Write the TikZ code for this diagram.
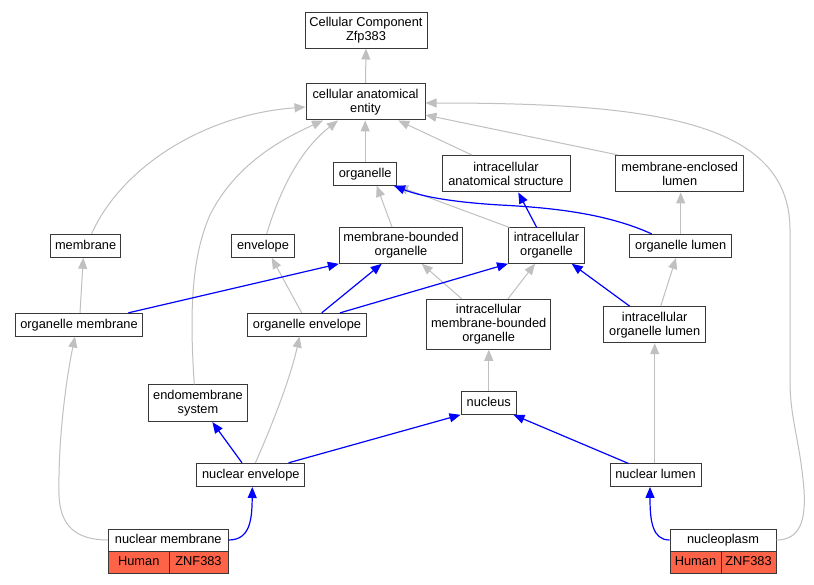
\documentclass[tikz,border=0pt]{standalone}
\usepackage{fontspec}
\setmainfont{Liberation Sans}
\usetikzlibrary{arrows.meta}
\definecolor{tomato}{HTML}{FF6347}
\definecolor{edgegray}{HTML}{C0C0C0}
\begin{document}
\begin{tikzpicture}[x=1pt,y=-1pt,
  box/.style={draw=black!78, line width=1pt, fill=white, inner sep=0pt, align=center, font=\fontsize{12.8}{14}\selectfont},
  one/.style={text height=9.3pt, text depth=2.7pt},
  cell/.style={box, fill=tomato, one},
  gedge/.style={draw=edgegray, line width=1pt, -{Triangle[length=11pt,width=9pt]}},
  bedge/.style={draw=blue, line width=1.2pt, -{Triangle[length=11pt,width=9pt]}},
]
\fill[white] (0,0) rectangle (814,584);
\useasboundingbox (0,0) rectangle (814,584);

\node[box,minimum width=122pt,minimum height=36pt] (cc) at (366,30) {Cellular Component\\Zfp383};
\node[box,minimum width=119pt,minimum height=36.5pt] (cae) at (365.5,101.7) {cellular anatomical\\entity};
\node[box,one,minimum width=62.5pt,minimum height=22.5pt] (org) at (365.2,174) {organelle};
\node[box,minimum width=128pt,minimum height=36.5pt] (ias) at (506,173.7) {intracellular\\anatomical structure};
\node[box,minimum width=127.5pt,minimum height=36.5pt] (mel) at (679.7,173.7) {membrane-enclosed\\lumen};
\node[box,one,minimum width=70.7pt,minimum height=23pt] (mem) at (85.6,245.8) {membrane};
\node[box,one,minimum width=62.5pt,minimum height=23pt] (env) at (263,245.8) {envelope};
\node[box,minimum width=123.3pt,minimum height=35.8pt] (mbo) at (401,245.4) {membrane-bounded\\organelle};
\node[box,minimum width=76pt,minimum height=35.3pt] (io) at (546.5,245.6) {intracellular\\organelle};
\node[box,one,minimum width=101.5pt,minimum height=23pt] (ol) at (680.7,245.9) {organelle lumen};
\node[box,one,minimum width=127pt,minimum height=22.7pt] (om) at (79,324.7) {organelle membrane};
\node[box,one,minimum width=119pt,minimum height=22.7pt] (oe) at (307,324.7) {organelle envelope};
\node[box,minimum width=123.5pt,minimum height=50pt] (imbo) at (488.7,324.3) {intracellular\\membrane-bounded\\organelle};
\node[box,minimum width=101.5pt,minimum height=36pt] (iol) at (654.7,324.7) {intracellular\\organelle lumen};
\node[box,minimum width=99pt,minimum height=36.7pt] (ems) at (198,403.3) {endomembrane\\system};
\node[box,one,minimum width=55.6pt,minimum height=22.6pt] (nuc) at (488.8,403) {nucleus};
\node[box,one,minimum width=108.3pt,minimum height=23.2pt] (ne) at (250.8,474.9) {nuclear envelope};
\node[box,one,minimum width=91pt,minimum height=22.5pt] (nl) at (655.5,475.2) {nuclear lumen};
\node[box,one,minimum width=119.5pt,minimum height=22pt] (nm) at (168.25,540) {nuclear membrane};
\node[cell,minimum width=60.5pt,minimum height=22pt] (nmh) at (138.75,562) {Human};
\node[cell,minimum width=59pt,minimum height=22pt] (nmz) at (198.5,562) {ZNF383};
\node[box,one,minimum width=106pt,minimum height=22pt] (np) at (723,540) {nucleoplasm};
\node[cell,minimum width=51pt,minimum height=22pt] (nph) at (695.5,562) {Human};
\node[cell,minimum width=55pt,minimum height=22pt] (npz) at (748.5,562) {ZNF383};

% gray edges
\draw[gedge] (cae.north) -- (cc.south);
\draw[gedge] (org.north) -- (org.north |- cae.south);
\draw[gedge] ([xshift=-34.3pt]ias.north) -- ([xshift=32.8pt]cae.south);
\draw[gedge] ([xshift=-61.7pt]mel.north) -- ([yshift=-13.3pt]cae.east);
\draw[gedge] ([xshift=6pt]mem.north) .. controls (120,170) and (200,115) .. ([yshift=-5.3pt]cae.west);
\draw[gedge] ([xshift=-3.7pt]ems.north) .. controls (190,320) and (190,260) .. (210,215) .. controls (235,165) and (280,140) .. ([xshift=-42.5pt]cae.south);
\draw[gedge] ([xshift=3.7pt]env.north) .. controls (280,190) and (300,150) .. ([xshift=-27.5pt]cae.south);
\draw[gedge] (np.east) .. controls (800,540) and (806,520) .. (804,490) .. controls (800,440) and (790,420) .. (790,380) -- (790,230) .. controls (790,120) and (650,103) .. ([yshift=-1.3pt]cae.east);
\draw[gedge] ([xshift=-9pt]mbo.north) -- ([xshift=11.5pt]org.south);
\draw[gedge] ([xshift=1.5pt]io.north west) -- (org.south east);
\draw[gedge] ([xshift=-27pt]imbo.north) -- ([xshift=20.7pt]mbo.south);
\draw[gedge] ([xshift=19.3pt]imbo.north) -- ([xshift=-11.5pt]io.south);
\draw[gedge] (ol.north) -- (ol.north |- mel.south);
\draw[gedge] ([xshift=6pt]iol.north) -- ([xshift=-4.7pt]ol.south);
\draw[gedge] ([xshift=1pt]om.north) -- ([xshift=-2.3pt]mem.south);
\draw[gedge] ([xshift=-5.3pt]oe.north) -- ([xshift=8.7pt]env.south);
\draw[gedge] (nuc.north) -- (nuc.north |- imbo.south);
\draw[gedge] (iol.south |- nl.north) -- (iol.south);
\draw[gedge] ([xshift=4.6pt]ne.north) .. controls (270,430) and (290,380) .. ([xshift=-7.5pt]oe.south);
\draw[gedge] (nm.west) .. controls (75,540) and (60,525) .. (59,495) .. controls (58,440) and (66,380) .. ([xshift=-4pt]om.south);

% blue edges
\draw[bedge] ([xshift=-29pt]ol.north) .. controls (610,215) and (560,208) .. (500,205) .. controls (450,202) and (420,196) .. ([xshift=-3pt]org.south east);
\draw[bedge] ([xshift=-9.8pt]io.north) -- ([xshift=12.3pt]ias.south);
\draw[bedge] ([xshift=49.3pt]om.north) -- (mbo.south west);
\draw[bedge] ([xshift=14.7pt]oe.north) -- ([xshift=-19.3pt]mbo.south);
\draw[bedge] ([xshift=33pt]oe.north) -- (io.south west);
\draw[bedge] ([xshift=-25pt]iol.north) -- ([xshift=25.2pt]io.south);
\draw[bedge] ([xshift=-8.8pt]ne.north) -- ([xshift=14.4pt]ems.south);
\draw[bedge] ([xshift=37.8pt]ne.north) -- (nuc.south west);
\draw[bedge] ([xshift=-27pt]nl.north) -- ([xshift=-3.6pt]nuc.south east);
\draw[bedge] (nm.east) .. controls (250,540) and (252,520) .. ([xshift=1.5pt]ne.south);
\draw[bedge] (np.west) .. controls (652,540) and (650,520) .. ([xshift=-5.5pt]nl.south);
\end{tikzpicture}
\end{document}
